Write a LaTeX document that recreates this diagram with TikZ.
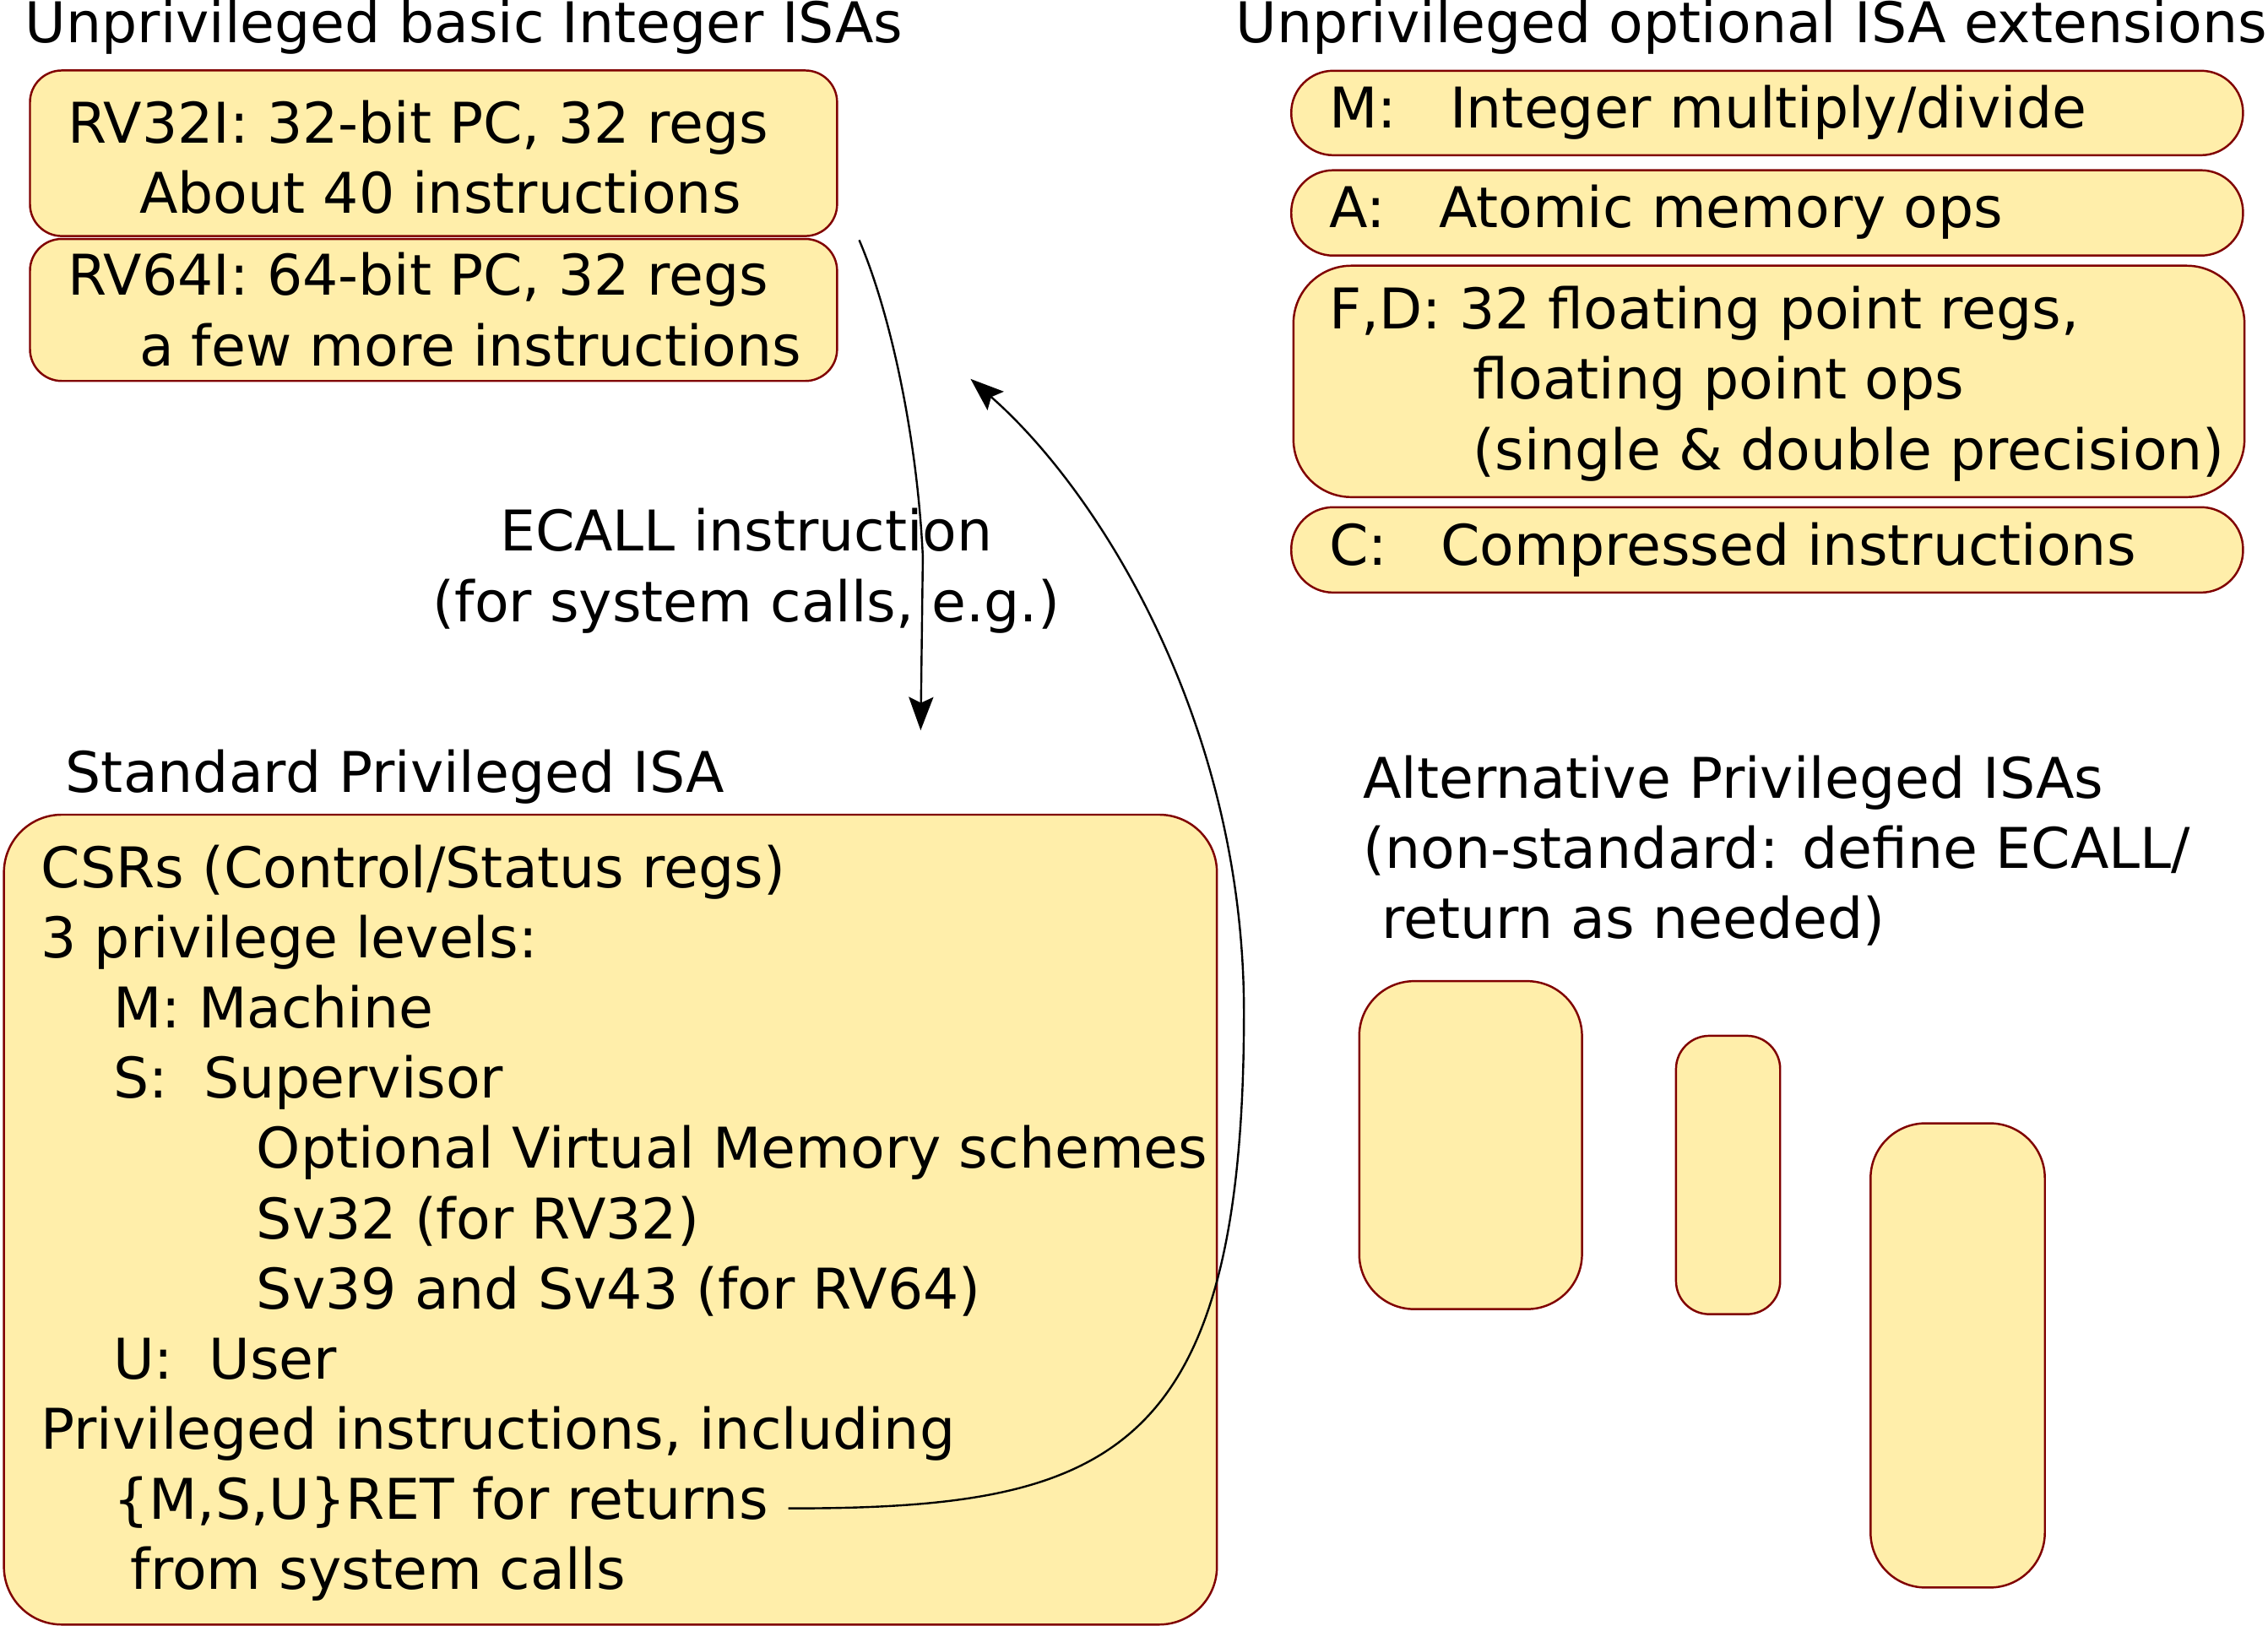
\documentclass[tikz,border=0pt]{standalone}
\usepackage{fontspec}
\setmainfont{DejaVu Sans}
\usetikzlibrary{arrows.meta}
\definecolor{boxfill}{HTML}{FFEEAA}
\definecolor{boxline}{HTML}{800000}
\begin{document}
\begin{tikzpicture}[x=0.5pt, y=-0.5pt,
  box/.style={draw=boxline, fill=boxfill, line width=0.72pt, inner sep=0pt, anchor=north west},
  txt/.style={anchor=base west, inner sep=0pt, font=\fontsize{19.4pt}{24pt}\selectfont},
  ctxt/.style={anchor=base, inner sep=0pt, font=\fontsize{19.4pt}{24pt}\selectfont},
  conn/.style={draw=black, line width=0.7pt, -{Stealth[length=11.5pt, width=8.5pt, inset=2pt]}}]
\useasboundingbox (0,0) rectangle (1568,1124);
% titles
\node[txt] (ttlA) at (17,29.5) {Unprivileged basic Integer ISAs};
\node[txt] (ttlB) at (854,29.5) {Unprivileged optional ISA extensions};
% base ISA boxes
\node[box, rounded corners=11pt, minimum width=279pt, minimum height=57.25pt] (rv32) at (20,48) {};
\node[box, rounded corners=11pt, minimum width=279pt, minimum height=49.1pt] (rv64) at (20,164.5) {};
\node[txt] (rv32a) at (46.5,99) {RV32I: 32-bit PC, 32 regs};
\node[txt] (rv32b) at (96,147.3) {About 40 instructions};
\node[txt] (rv64a) at (46.5,204.3) {RV64I: 64-bit PC, 32 regs};
\node[txt] (rv64b) at (96,253) {a few more instructions};
% extension boxes
\node[box, rounded corners=14.5pt, minimum width=329pt, minimum height=29.2pt] (extM) at (892,48.2) {};
\node[box, rounded corners=14.5pt, minimum width=329pt, minimum height=29.5pt] (extA) at (892,117) {};
\node[box, rounded corners=20pt, minimum width=328.75pt, minimum height=80pt] (extF) at (893.5,183) {};
\node[box, rounded corners=14.5pt, minimum width=329pt, minimum height=29.5pt] (extC) at (892,350) {};
\node[txt] (extMt) at (918.5,88.4) {M:\ \ \ Integer multiply/divide};
\node[txt] (extAt) at (918.5,157.5) {A:\ \ \ Atomic memory ops};
\node[txt] (extFa) at (918.5,227.6) {F,D: 32 floating point regs,};
\node[txt] (extFb) at (1018,275.8) {floating point ops};
\node[txt] (extFc) at (1018,324.8) {(single \& double precision)};
\node[txt] (extCt) at (918.5,391) {C:\ \ \ Compressed instructions};
% ECALL label
\node[ctxt] (ecl1) at (516,381) {ECALL instruction};
\node[ctxt] (ecl2) at (516,430) {(for system calls, e.g.)};
% standard privileged ISA
\node[txt] (ttlC) at (45,548) {Standard Privileged ISA};
\node[box, rounded corners=20pt, minimum width=419.3pt, minimum height=280pt] (priv) at (2,562.6) {};
\node[txt] (p1) at (28,613.8) {CSRs (Control/Status regs)};
\node[txt] (p2) at (28,662.3) {3 privilege levels:};
\node[txt] (p3) at (78,710.9) {M: Machine};
\node[txt] (p4) at (78,759.4) {S:\ \ Supervisor};
\node[txt] (p5) at (177,807.9) {Optional Virtual Memory schemes};
\node[txt] (p6) at (177,856.5) {Sv32 (for RV32)};
\node[txt] (p7) at (177,905) {Sv39 and Sv43 (for RV64)};
\node[txt] (p8) at (78,953.5) {U:\ \ User};
\node[txt] (p9) at (28,1002.1) {Privileged instructions, including};
\node[txt] (p10) at (78,1050.6) {\{M,S,U\}RET for returns};
\node[txt] (p11) at (90,1099.1) {from system calls};
% alternative privileged ISAs
\node[txt] (alt1) at (942,552) {Alternative Privileged ISAs};
\node[txt] (alt2) at (942,600.5) {(non-standard: define ECALL/};
\node[txt] (alt3) at (955,649) {return as needed)};
\node[box, rounded corners=19pt, minimum width=77pt, minimum height=113.4pt] (altA) at (939,677.7) {};
\node[box, rounded corners=11.5pt, minimum width=36pt, minimum height=96.25pt] (altB) at (1158,715.5) {};
\node[box, rounded corners=19pt, minimum width=60.25pt, minimum height=160.5pt] (altC) at (1292.5,776) {};
% connectors
\coordinate (ecallS) at (594,166);
\coordinate (ecallE) at (636.5,505);
\coordinate (retS) at (545,1043);
\coordinate (retE) at (671,262);
\draw[conn] (ecallS) .. controls (615,215) and (634,300) .. (638,385) -- (ecallE);
\draw[conn] (retS) .. controls (765,1043) and (860,1010) .. (860,700) .. controls (860,500) and (760,340) .. (retE);
\end{tikzpicture}
\end{document}
